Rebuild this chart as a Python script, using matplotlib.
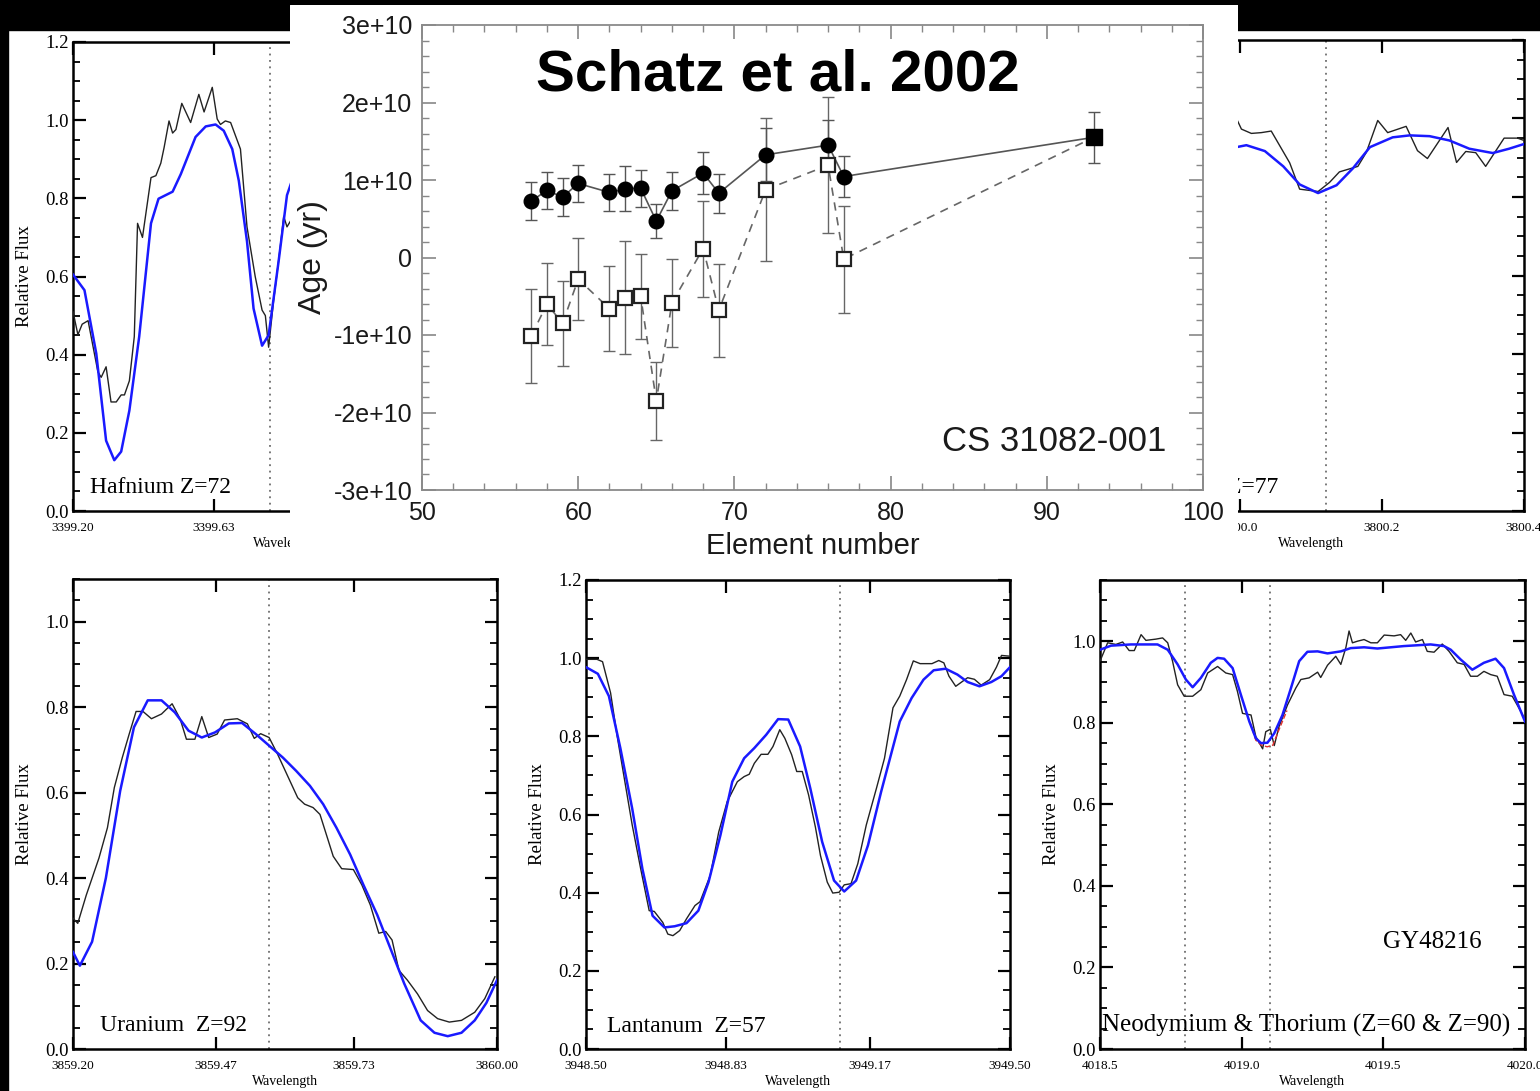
"""Collage: r-process age estimates (Schatz et al. 2002) with five stellar line fits."""

import matplotlib

matplotlib.use("Agg")
import matplotlib.pyplot as plt
import matplotlib.ticker as mticker
from matplotlib.patches import Rectangle

FIG_W, FIG_H = 1540, 1091
SERIF = ["Liberation Serif", "DejaVu Serif"]
SANS = ["Liberation Sans", "DejaVu Sans"]

# ---- Hafnium Z=72 (top left, partly covered) ----
hf_wl_fit = [3399.200, 3399.235, 3399.271, 3399.301, 3399.326, 3399.347, 3399.372, 3399.402,
             3399.438, 3399.461, 3399.504, 3399.529, 3399.574, 3399.605, 3399.635, 3399.660,
             3399.686, 3399.706, 3399.731, 3399.751, 3399.777, 3399.797, 3399.827, 3399.853,
             3399.866]
hf_fit = [0.605, 0.565, 0.403, 0.180, 0.130, 0.152, 0.257, 0.446, 0.736, 0.799, 0.817, 0.862,
          0.957, 0.984, 0.989, 0.973, 0.926, 0.845, 0.690, 0.518, 0.423, 0.450, 0.636, 0.808,
          0.840]
hf_wl_obs = [3399.200, 3399.215, 3399.228, 3399.246, 3399.276, 3399.286, 3399.301, 3399.316,
             3399.332, 3399.347, 3399.357, 3399.372, 3399.387, 3399.397, 3399.412, 3399.438,
             3399.453, 3399.468, 3399.478, 3399.493, 3399.504, 3399.514, 3399.532, 3399.559,
             3399.584, 3399.600, 3399.625, 3399.640, 3399.650, 3399.665, 3399.681, 3399.711,
             3399.731, 3399.756, 3399.777, 3399.787, 3399.797, 3399.812, 3399.832, 3399.843,
             3399.853, 3399.866]
hf_obs = [0.510, 0.451, 0.478, 0.487, 0.356, 0.342, 0.369, 0.279, 0.279, 0.297, 0.297, 0.333,
          0.446, 0.736, 0.700, 0.853, 0.858, 0.890, 0.930, 0.998, 0.967, 0.976, 1.043, 0.994,
          1.066, 1.021, 1.084, 1.003, 0.989, 0.998, 0.994, 0.926, 0.727, 0.600, 0.514, 0.500,
          0.419, 0.537, 0.672, 0.754, 0.727, 0.745]

# ---- Iridium Z=77 (top right, partly covered) ----
ir_wl_fit = [3799.995, 3800.009, 3800.035, 3800.061, 3800.084, 3800.110, 3800.136, 3800.159,
             3800.183, 3800.215, 3800.239, 3800.267, 3800.295, 3800.323, 3800.356, 3800.379,
             3800.400]
ir_fit = [0.927, 0.932, 0.917, 0.878, 0.832, 0.810, 0.830, 0.873, 0.927, 0.952, 0.957, 0.955,
          0.944, 0.923, 0.912, 0.923, 0.935]
ir_wl_obs = [3799.995, 3800.002, 3800.016, 3800.030, 3800.044, 3800.070, 3800.084, 3800.110,
             3800.126, 3800.140, 3800.166, 3800.178, 3800.194, 3800.208, 3800.234, 3800.250,
             3800.264, 3800.293, 3800.305, 3800.318, 3800.332, 3800.346, 3800.372, 3800.391,
             3800.400]
ir_obs = [1.000, 0.973, 0.962, 0.964, 0.968, 0.887, 0.820, 0.814, 0.837, 0.864, 0.878, 0.914,
          0.995, 0.964, 0.980, 0.918, 0.898, 0.977, 0.888, 0.916, 0.913, 0.878, 0.950, 0.950,
          0.944]

# ---- Uranium Z=92 ----
u_wl_fit = [3859.200, 3859.213, 3859.236, 3859.262, 3859.289, 3859.315, 3859.341, 3859.367,
            3859.392, 3859.418, 3859.443, 3859.468, 3859.494, 3859.519, 3859.545, 3859.570,
            3859.596, 3859.621, 3859.647, 3859.672, 3859.697, 3859.723, 3859.748, 3859.774,
            3859.799, 3859.825, 3859.856, 3859.882, 3859.907, 3859.933, 3859.958, 3859.980,
            3860.000]
u_fit = [0.227, 0.195, 0.251, 0.400, 0.604, 0.753, 0.816, 0.816, 0.788, 0.745, 0.729, 0.741,
         0.762, 0.763, 0.737, 0.710, 0.682, 0.651, 0.616, 0.573, 0.518, 0.455, 0.384, 0.314,
         0.235, 0.153, 0.067, 0.038, 0.030, 0.038, 0.067, 0.108, 0.161]
u_wl_obs = [3859.200, 3859.209, 3859.225, 3859.249, 3859.265, 3859.278, 3859.293, 3859.306,
            3859.319, 3859.332, 3859.348, 3859.367, 3859.387, 3859.402, 3859.414, 3859.430,
            3859.443, 3859.456, 3859.472, 3859.486, 3859.510, 3859.529, 3859.542, 3859.554,
            3859.570, 3859.586, 3859.602, 3859.624, 3859.637, 3859.653, 3859.666, 3859.678,
            3859.691, 3859.707, 3859.729, 3859.745, 3859.761, 3859.777, 3859.790, 3859.802,
            3859.815, 3859.831, 3859.850, 3859.869, 3859.888, 3859.910, 3859.933, 3859.958,
            3859.977, 3859.996]
u_obs = [0.306, 0.294, 0.360, 0.447, 0.518, 0.612, 0.682, 0.737, 0.790, 0.790, 0.773, 0.784,
         0.808, 0.773, 0.725, 0.725, 0.778, 0.729, 0.737, 0.770, 0.773, 0.761, 0.727, 0.738,
         0.729, 0.690, 0.647, 0.588, 0.573, 0.565, 0.549, 0.502, 0.451, 0.422, 0.420, 0.384,
         0.337, 0.271, 0.275, 0.255, 0.184, 0.161, 0.129, 0.090, 0.071, 0.063, 0.067, 0.086,
         0.118, 0.169]

# ---- Lanthanum Z=57 ----
la_wl_fit = [3948.500, 3948.528, 3948.554, 3948.581, 3948.609, 3948.633, 3948.657, 3948.685,
             3948.709, 3948.737, 3948.765, 3948.789, 3948.817, 3948.845, 3948.873, 3948.897,
             3948.925, 3948.953, 3948.977, 3949.005, 3949.029, 3949.057, 3949.085, 3949.109,
             3949.137, 3949.165, 3949.196, 3949.240, 3949.268, 3949.296, 3949.320, 3949.348,
             3949.376, 3949.400, 3949.428, 3949.456, 3949.480, 3949.500]
la_fit = [0.977, 0.960, 0.903, 0.770, 0.615, 0.461, 0.341, 0.311, 0.314, 0.322, 0.354, 0.427,
          0.547, 0.684, 0.744, 0.770, 0.804, 0.844, 0.843, 0.774, 0.667, 0.530, 0.431, 0.403,
          0.431, 0.521, 0.658, 0.838, 0.898, 0.945, 0.969, 0.973, 0.958, 0.939, 0.928, 0.939,
          0.954, 0.977]
la_wl_obs = [3948.500, 3948.526, 3948.539, 3948.558, 3948.573, 3948.589, 3948.609, 3948.629,
             3948.649, 3948.661, 3948.681, 3948.693, 3948.705, 3948.721, 3948.737, 3948.757,
             3948.769, 3948.793, 3948.813, 3948.833, 3948.857, 3948.873, 3948.885, 3948.897,
             3948.913, 3948.929, 3948.941, 3948.957, 3948.969, 3948.985, 3948.997, 3949.010,
             3949.025, 3949.041, 3949.053, 3949.069, 3949.082, 3949.097, 3949.109, 3949.125,
             3949.141, 3949.161, 3949.185, 3949.204, 3949.224, 3949.240, 3949.256, 3949.272,
             3949.288, 3949.316, 3949.332, 3949.344, 3949.356, 3949.372, 3949.400, 3949.416,
             3949.432, 3949.452, 3949.468, 3949.480, 3949.500]
la_obs = [0.997, 0.997, 0.991, 0.911, 0.804, 0.701, 0.573, 0.461, 0.354, 0.352, 0.324, 0.294,
          0.290, 0.303, 0.333, 0.367, 0.377, 0.444, 0.555, 0.633, 0.684, 0.697, 0.703, 0.731,
          0.754, 0.754, 0.774, 0.817, 0.795, 0.753, 0.710, 0.710, 0.650, 0.568, 0.495, 0.427,
          0.399, 0.401, 0.420, 0.423, 0.474, 0.573, 0.667, 0.744, 0.873, 0.903, 0.945, 0.993,
          0.986, 0.986, 0.994, 0.988, 0.954, 0.928, 0.950, 0.946, 0.931, 0.945, 0.977, 1.007,
          1.005]

# ---- Neodymium & Thorium (GY48216) ----
nd_wl_fit = [4018.500, 4018.539, 4018.609, 4018.703, 4018.739, 4018.774, 4018.803, 4018.827,
             4018.856, 4018.891, 4018.915, 4018.938, 4018.968, 4018.997, 4019.027, 4019.050,
             4019.068, 4019.091, 4019.115, 4019.144, 4019.174, 4019.203, 4019.232, 4019.268,
             4019.303, 4019.350, 4019.385, 4019.432, 4019.479, 4019.526, 4019.573, 4019.620,
             4019.667, 4019.714, 4019.738, 4019.773, 4019.814, 4019.855, 4019.896, 4019.926,
             4019.961, 4020.000]
nd_fit = [0.979, 0.989, 0.992, 0.992, 0.979, 0.943, 0.906, 0.887, 0.910, 0.947, 0.959, 0.957,
          0.934, 0.869, 0.803, 0.762, 0.750, 0.751, 0.774, 0.819, 0.885, 0.951, 0.974, 0.975,
          0.970, 0.975, 0.983, 0.985, 0.982, 0.985, 0.988, 0.990, 0.992, 0.988, 0.979, 0.955,
          0.930, 0.947, 0.957, 0.934, 0.869, 0.803]
nd_wl_alt = [4019.030, 4019.050, 4019.070, 4019.090, 4019.110, 4019.130, 4019.160]
nd_alt = [0.800, 0.757, 0.745, 0.741, 0.745, 0.780, 0.830]
nd_wl_obs = [4018.500, 4018.527, 4018.556, 4018.580, 4018.603, 4018.621, 4018.645, 4018.662,
             4018.697, 4018.721, 4018.739, 4018.756, 4018.774, 4018.797, 4018.827, 4018.856,
             4018.880, 4018.915, 4018.944, 4018.968, 4018.985, 4019.003, 4019.033, 4019.050,
             4019.074, 4019.085, 4019.101, 4019.115, 4019.132, 4019.162, 4019.191, 4019.209,
             4019.238, 4019.268, 4019.279, 4019.303, 4019.332, 4019.350, 4019.368, 4019.379,
             4019.391, 4019.409, 4019.432, 4019.456, 4019.479, 4019.503, 4019.538, 4019.561,
             4019.579, 4019.597, 4019.614, 4019.638, 4019.655, 4019.679, 4019.708, 4019.732,
             4019.761, 4019.785, 4019.808, 4019.832, 4019.855, 4019.879, 4019.902, 4019.926,
             4019.955, 4019.985, 4020.000]
nd_obs = [0.951, 0.996, 0.992, 0.998, 0.977, 0.977, 1.016, 1.002, 1.005, 1.008, 0.996, 0.951,
          0.893, 0.865, 0.865, 0.881, 0.922, 0.938, 0.922, 0.918, 0.877, 0.823, 0.819, 0.766,
          0.736, 0.778, 0.784, 0.744, 0.791, 0.844, 0.885, 0.906, 0.910, 0.924, 0.911, 0.941,
          0.963, 0.943, 0.985, 1.025, 0.996, 1.000, 1.004, 0.996, 0.996, 1.015, 1.013, 1.016,
          1.002, 1.020, 0.998, 1.004, 0.975, 0.973, 0.993, 0.975, 0.947, 0.943, 0.914, 0.914,
          0.926, 0.918, 0.914, 0.869, 0.865, 0.828, 0.807]

# ---- Age vs element number, CS 31082-001 (ages in units of 1e10 yr) ----
element_z = [57, 58, 59, 60, 62, 63, 64, 65, 66, 68, 69, 72, 76, 77]
age_solid = [0.73, 0.865, 0.78, 0.955, 0.84, 0.885, 0.895, 0.47, 0.86, 1.09, 0.83, 1.325, 1.45, 1.045]
err_solid = [0.25, 0.235, 0.24, 0.24, 0.235, 0.29, 0.24, 0.22, 0.245, 0.265, 0.25, 0.34, 0.32, 0.27]
age_open = [-1.01, -0.60, -0.85, -0.28, -0.66, -0.52, -0.50, -1.85, -0.585, 0.115, -0.68, 0.875, 1.19, -0.02]
err_open = [0.61, 0.53, 0.55, 0.53, 0.545, 0.73, 0.55, 0.50, 0.57, 0.62, 0.60, 0.92, 0.88, 0.69]
u_z, u_age, u_err = 93, 1.55, 0.33
age_ticks = [-3, -2, -1, 0, 1, 2, 3]
age_tick_labels = ["-3e+10", "-2e+10", "-1e+10", "0", "1e+10", "2e+10", "3e+10"]


def px_axes(fig, x0, y0, x1, y1, **kwargs):
    """Add an axes given its pixel box (top-left origin)."""
    rect = [x0 / FIG_W, 1 - y1 / FIG_H, (x1 - x0) / FIG_W, (y1 - y0) / FIG_H]
    return fig.add_axes(rect, **kwargs)


def spectrum_panel(fig, box, xticks, xfmt, ytop, obs, fit, marks, label, label_pos,
                   show_ylabels=True):
    ax = px_axes(fig, *box)
    ax.plot(obs[0], obs[1], color="#222222", lw=1.0, zorder=3)
    ax.plot(fit[0], fit[1], color="#1a1aff", lw=1.8, zorder=4)
    for m in marks:
        ax.axvline(m, color="#555555", lw=1.1, ls=(0, (1.2, 3)), zorder=2)
    ax.set_xlim(xticks[0], xticks[-1])
    ax.set_ylim(0, ytop)
    ax.set_xticks(xticks)
    ax.set_xticklabels([xfmt % t for t in xticks], family=SERIF)
    ax.xaxis.set_minor_locator(mticker.NullLocator())
    ax.yaxis.set_major_locator(mticker.MultipleLocator(0.2))
    ax.yaxis.set_minor_locator(mticker.MultipleLocator(0.05))
    ax.yaxis.set_major_formatter(mticker.FormatStrFormatter("%.1f"))
    for t in ax.get_yticklabels():
        t.set_family(SERIF)
    ax.tick_params(which="both", direction="in", top=True, right=True, color="black")
    ax.tick_params(which="major", length=9, width=1.6)
    ax.tick_params(which="minor", length=5, width=1.3)
    ax.tick_params(axis="x", labelsize=9.5, pad=8)
    ax.tick_params(axis="y", labelsize=13.5, pad=3)
    for spine in ax.spines.values():
        spine.set_linewidth(1.8)
    ax.set_xlabel("Wavelength", family=SERIF, fontsize=10, labelpad=2)
    if show_ylabels:
        ax.set_ylabel("Relative Flux", family=SERIF, fontsize=13.5, labelpad=9)
    else:
        # this side is covered by the pasted age plot
        ax.tick_params(axis="y", labelleft=False)
    for text, (fx, fy, ha, size) in zip(label, label_pos):
        ax.text(fx, fy, text, transform=ax.transAxes, ha=ha, va="center",
                family=SERIF, fontsize=size, zorder=5)
    return ax


fig = plt.figure(figsize=(FIG_W / 100, FIG_H / 100), dpi=100, facecolor="white")

# Black frame remnants of the slide at the top and the left edge.
bg = fig.add_axes([0, 0, 1, 1], zorder=-10)
bg.set_axis_off()
bg.set_xlim(0, FIG_W)
bg.set_ylim(FIG_H, 0)
bg.add_patch(Rectangle((0, 0), FIG_W, 30, color="black"))
bg.add_patch(Rectangle((0, 0), 8, FIG_H, color="black"))

spectrum_panel(fig, (73, 42, 499, 511), [3399.20, 3399.63, 3400.07, 3400.50], "%.2f", 1.2,
               (hf_wl_obs, hf_obs), (hf_wl_fit, hf_fit), [3399.80],
               ["Hafnium Z=72"], [(0.04, 0.05, "left", 17)])
spectrum_panel(fig, (1098, 40, 1524, 511), [3799.8, 3800.0, 3800.2, 3800.4], "%.1f", 1.2,
               (ir_wl_obs, ir_obs), (ir_wl_fit, ir_fit), [3800.121],
               ["Iridium Z=77"], [(0.4225, 0.05, "right", 17)], show_ylabels=False)
spectrum_panel(fig, (73, 579, 497, 1049), [3859.20, 3859.47, 3859.73, 3860.00], "%.2f", 1.1,
               (u_wl_obs, u_obs), (u_wl_fit, u_fit), [3859.57],
               ["Uranium  Z=92"], [(0.064, 0.051, "left", 17)])
spectrum_panel(fig, (586, 580, 1010, 1049), [3948.50, 3948.83, 3949.17, 3949.50], "%.2f", 1.2,
               (la_wl_obs, la_obs), (la_wl_fit, la_fit), [3949.10],
               ["Lantanum  Z=57"], [(0.05, 0.047, "left", 17)])
ax_nd = spectrum_panel(fig, (1100, 580, 1525, 1049), [4018.5, 4019.0, 4019.5, 4020.0], "%.1f", 1.15,
                       (nd_wl_obs, nd_obs), (nd_wl_fit, nd_fit), [4018.80, 4019.10],
                       ["GY48216", "Neodymium & Thorium (Z=60 & Z=90)"],
                       [(0.666, 0.228, "left", 18), (0.004, 0.051, "left", 18)])
ax_nd.plot(nd_wl_alt, nd_alt, color="#e03030", lw=1.0, ls="--", zorder=3)

# Central pasted figure: white card with the age plot.
card = px_axes(fig, 290, 5, 1238, 560, zorder=5)
card.set_axis_off()
card.add_patch(Rectangle((0, 0), 1, 1, transform=card.transAxes, color="white"))

ax = px_axes(fig, 422, 25, 1203, 490, zorder=6)
scale = 1e10
ax.errorbar(element_z, [a * scale for a in age_open], yerr=[e * scale for e in err_open],
            fmt="none", ecolor="#666666", elinewidth=1.0, capsize=4.5, capthick=1.0, zorder=2)
ax.errorbar(element_z, [a * scale for a in age_solid], yerr=[e * scale for e in err_solid],
            fmt="none", ecolor="#555555", elinewidth=1.0, capsize=4.5, capthick=1.0, zorder=2)
ax.errorbar([u_z], [u_age * scale], yerr=[u_err * scale],
            fmt="none", ecolor="#555555", elinewidth=1.0, capsize=4.5, capthick=1.0, zorder=2)
ax.plot(element_z + [u_z], [a * scale for a in age_open + [u_age]], color="#666666",
        lw=1.2, ls=(0, (5, 4)), zorder=3)
ax.plot(element_z + [u_z], [a * scale for a in age_solid + [u_age]], color="#555555",
        lw=1.2, zorder=3)
ax.plot(element_z, [a * scale for a in age_open], ls="none", marker="s", ms=10.5,
        mfc="white", mec="#222222", mew=1.6, zorder=4)
ax.plot(element_z, [a * scale for a in age_solid], ls="none", marker="o", ms=10.5,
        color="black", zorder=5)
ax.plot([u_z], [u_age * scale], ls="none", marker="s", ms=11.5, color="black", zorder=5)

ax.set_xlim(50, 100)
ax.set_ylim(-3 * scale, 3 * scale)
ax.xaxis.set_major_locator(mticker.MultipleLocator(10))
ax.xaxis.set_minor_locator(mticker.MultipleLocator(2))
ax.set_yticks([t * scale for t in age_ticks])
ax.set_yticklabels(age_tick_labels)
ax.yaxis.set_minor_locator(mticker.MultipleLocator(0.2 * scale))
ax.tick_params(which="both", direction="in", top=True, right=True, color="#888888")
ax.tick_params(which="major", length=10, width=1.2)
ax.tick_params(which="minor", length=5, width=1.0)
ax.tick_params(axis="both", labelsize=18, labelcolor="#1a1a1a")
ax.tick_params(axis="y", pad=7)
ax.tick_params(axis="x", pad=8)
for t in ax.get_xticklabels() + ax.get_yticklabels():
    t.set_family(SANS)
for spine in ax.spines.values():
    spine.set_color("#8a8a8a")
    spine.set_linewidth(1.3)
ax.set_xlabel("Element number", family=SANS, fontsize=21, color="#1a1a1a", labelpad=5)
ax.set_ylabel("Age (yr)", family=SANS, fontsize=23, color="#1a1a1a", labelpad=4)
ax.text(0.81, 0.105, "CS 31082-001", transform=ax.transAxes, ha="center", va="center",
        family=SANS, fontsize=25, color="#1a1a1a")
ax.text(0.456, 0.892, "Schatz et al. 2002", transform=ax.transAxes, ha="center", va="center",
        family=SANS, fontsize=42, weight="bold", color="black", zorder=10)

fig.savefig("out.png", dpi=100, facecolor="white")
